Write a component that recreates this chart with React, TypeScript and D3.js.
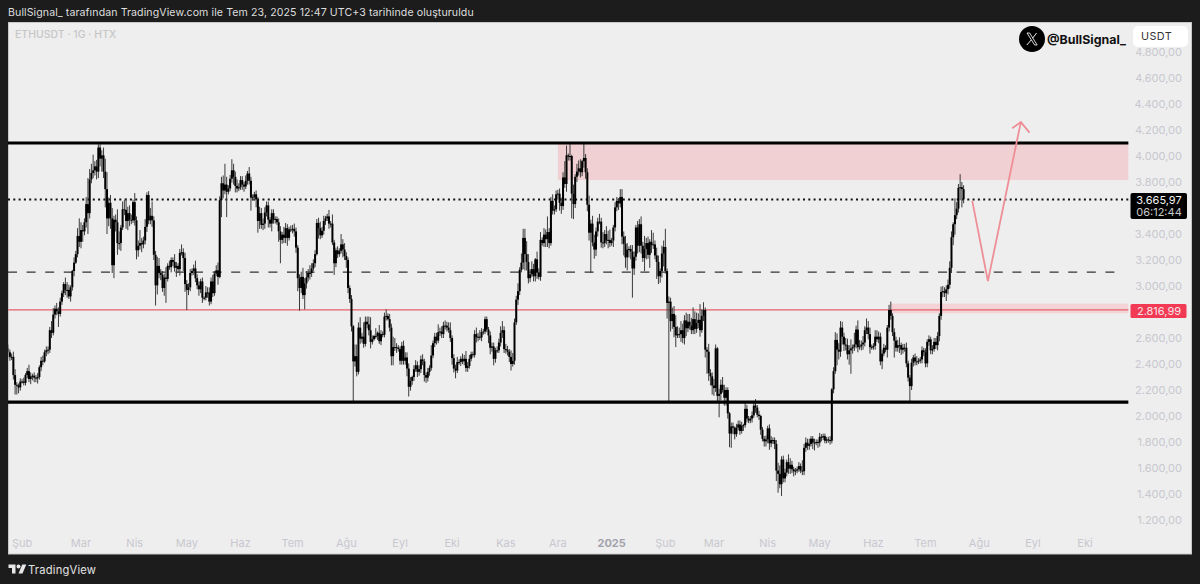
import * as d3 from 'd3'

// daily closes, one row per month, Jan 19 2024 -> Jul 23 2025
const closes = [
  2490, 2455, 2455, 2315, 2240, 2235, 2220, 2265, 2265, 2255, 2315, 2345, 2285,
  2305, 2310, 2295, 2290, 2300, 2375, 2425, 2420, 2490, 2505, 2510, 2660, 2640, 2780, 2825, 2805, 2785, 2880, 2945, 3015, 2970, 2970, 2920, 2990, 3115, 3180, 3245, 3385, 3340,
  3430, 3420, 3490, 3630, 3560, 3820, 3870, 3890, 3920, 3880, 4065, 3980, 4005, 3880, 3745, 3520, 3640, 3520, 3160, 3510, 3490, 3330, 3330, 3450, 3590, 3585, 3500, 3560, 3510, 3505, 3645,
  3505, 3275, 3310, 3330, 3320, 3350, 3455, 3700, 3505, 3540, 3505, 3240, 3005, 3155, 3100, 3085, 2985, 3065, 3055, 3155, 3145, 3200, 3185, 3140, 3155, 3130, 3255, 3260, 3215, 3015,
  2970, 2990, 3100, 3115, 3135, 3060, 3005, 2975, 3035, 2910, 2910, 2950, 2950, 2880, 3035, 2945, 3095, 3120, 3070, 3660, 3790, 3735, 3780, 3725, 3750, 3825, 3890, 3840, 3770, 3750, 3760,
  3815, 3780, 3765, 3810, 3865, 3810, 3680, 3685, 3705, 3665, 3500, 3560, 3470, 3480, 3565, 3620, 3510, 3480, 3560, 3510, 3515, 3490, 3420, 3355, 3395, 3370, 3445, 3370, 3435, 3435,
  3440, 3420, 3295, 3060, 2985, 3070, 2930, 3020, 3065, 3100, 3100, 3135, 3175, 3245, 3485, 3445, 3390, 3425, 3500, 3520, 3535, 3480, 3480, 3335, 3175, 3275, 3245, 3270, 3320, 3280, 3230,
  3200, 2985, 2900, 2690, 2420, 2460, 2340, 2680, 2595, 2610, 2555, 2725, 2705, 2660, 2570, 2590, 2615, 2615, 2640, 2575, 2630, 2625, 2765, 2770, 2745, 2680, 2460, 2530, 2530, 2525, 2515,
  2425, 2540, 2425, 2450, 2365, 2225, 2270, 2300, 2360, 2390, 2340, 2360, 2435, 2420, 2315, 2295, 2340, 2370, 2465, 2560, 2610, 2580, 2645, 2650, 2630, 2695, 2695, 2680, 2660, 2600,
  2445, 2365, 2350, 2415, 2415, 2440, 2420, 2440, 2370, 2385, 2440, 2475, 2470, 2630, 2605, 2610, 2605, 2645, 2650, 2745, 2665, 2620, 2525, 2535, 2440, 2505, 2505, 2565, 2640, 2660, 2515,
  2510, 2495, 2455, 2400, 2425, 2720, 2895, 2960, 3125, 3180, 3370, 3245, 3185, 3060, 3090, 3130, 3075, 3205, 3105, 3070, 3355, 3330, 3395, 3360, 3415, 3330, 3655, 3580, 3590, 3705,
  3710, 3640, 3615, 3835, 3785, 4005, 3995, 4000, 3710, 3630, 3840, 3880, 3905, 3875, 3960, 3985, 3875, 3625, 3410, 3480, 3335, 3280, 3420, 3495, 3495, 3335, 3330, 3400, 3350, 3355, 3330,
  3350, 3450, 3605, 3655, 3635, 3685, 3380, 3325, 3220, 3280, 3285, 3265, 3135, 3225, 3450, 3310, 3475, 3310, 3215, 3285, 3330, 3240, 3340, 3315, 3320, 3235, 3185, 3075, 3115, 3250, 3300,
  3115, 2870, 2880, 2730, 2785, 2685, 2620, 2630, 2630, 2660, 2600, 2735, 2675, 2725, 2695, 2660, 2745, 2670, 2715, 2740, 2660, 2770, 2815, 2510, 2495, 2330, 2305, 2235,
  2215, 2520, 2155, 2170, 2240, 2200, 2140, 2200, 2020, 1865, 1920, 1910, 1860, 1910, 1935, 1885, 1925, 1930, 2055, 1980, 1965, 1980, 2005, 2080, 2065, 2010, 2000, 1895, 1825, 1805, 1820,
  1905, 1790, 1815, 1815, 1785, 1580, 1555, 1475, 1665, 1520, 1565, 1645, 1595, 1625, 1590, 1575, 1580, 1590, 1615, 1580, 1575, 1755, 1795, 1770, 1785, 1825, 1795, 1795, 1800, 1795,
  1840, 1835, 1845, 1810, 1820, 1815, 1810, 2205, 2345, 2585, 2510, 2495, 2680, 2610, 2550, 2545, 2475, 2505, 2520, 2530, 2550, 2665, 2530, 2535, 2550, 2565, 2660, 2680, 2630, 2530, 2530,
  2540, 2610, 2590, 2610, 2420, 2480, 2525, 2510, 2680, 2815, 2770, 2645, 2580, 2525, 2545, 2545, 2510, 2525, 2525, 2405, 2295, 2230, 2410, 2450, 2420, 2420, 2425, 2435, 2505, 2490,
  2405, 2570, 2590, 2505, 2515, 2570, 2545, 2615, 2770, 2955, 2960, 2945, 2975, 3010, 3140, 3375, 3475, 3545, 3595, 3755, 3760, 3745, 3666,
]

// how far each high sits above the body
const upperWicks = [
  30, 20, 25, 40, 45, 20, 15, 25, 20, 30, 15, 25, 50,
  30, 15, 25, 20, 30, 15, 30, 40, 20, 30, 25, 25, 70, 50, 25, 45, 30, 30, 20, 15, 50, 60, 40, 15, 10, 40, 25, 60, 135,
  60, 40, 30, 55, 200, 80, 70, 120, 40, 50, 25, 25, 40, 60, 100, 130, 40, 60, 80, 30, 40, 100, 90, 20, 60, 70, 90, 50, 60, 40, 20,
  70, 30, 40, 100, 40, 30, 60, 20, 30, 60, 110, 30, 30, 70, 60, 30, 30, 30, 80, 20, 40, 20, 20, 60, 30, 20, 30, 60, 30, 40,
  30, 30, 30, 20, 30, 60, 30, 30, 20, 30, 10, 50, 40, 40, 30, 50, 20, 40, 60, 30, 50, 60, 160, 60, 25, 30, 85, 50, 40, 50, 30,
  30, 30, 20, 40, 20, 50, 30, 20, 20, 30, 20, 50, 40, 40, 40, 30, 30, 20, 30, 30, 20, 20, 30, 40, 20, 60, 40, 30, 20, 30,
  30, 40, 30, 20, 30, 40, 70, 40, 50, 30, 60, 40, 30, 30, 30, 40, 50, 30, 40, 20, 20, 50, 20, 70, 20, 20, 30, 20, 80, 40, 50,
  30, 20, 20, 30, 10, 90, 90, 40, 80, 30, 110, 40, 40, 60, 100, 30, 10, 60, 10, 60, 30, 20, 30, 50, 20, 40, 30, 80, 70, 30, 20,
  20, 30, 40, 40, 40, 40, 30, 10, 30, 40, 30, 30, 30, 40, 20, 20, 30, 20, 80, 20, 30, 30, 60, 30, 40, 30, 40, 30, 40, 60,
  20, 30, 30, 40, 20, 20, 40, 30, 60, 30, 30, 20, 20, 30, 50, 30, 50, 30, 20, 20, 20, 20, 30, 30, 30, 20, 30, 30, 50, 70, 30,
  40, 30, 20, 50, 60, 30, 30, 60, 20, 70, 70, 70, 100, 60, 40, 60, 40, 10, 60, 30, 60, 20, 50, 40, 120, 30, 30, 50, 30, 30,
  30, 40, 40, 40, 125, 75, 15, 90, 10, 70, 20, 60, 60, 70, 10, 115, 30, 30, 70, 30, 60, 60, 30, 30, 60, 30, 80, 30, 60, 70, 80,
  20, 20, 40, 30, 20, 60, 60, 40, 60, 50, 20, 30, 50, 40, 20, 50, 40, 60, 30, 100, 40, 50, 20, 90, 90, 30, 60, 50, 20, 60, 50,
  140, 20, 40, 30, 50, 60, 90, 60, 50, 70, 50, 40, 60, 60, 60, 60, 90, 60, 80, 50, 120, 50, 60, 20, 20, 60, 30, 30,
  50, 30, 10, 40, 40, 60, 40, 20, 20, 10, 30, 30, 10, 30, 30, 30, 30, 10, 60, 30, 20, 20, 30, 20, 50, 20, 30, 10, 20, 20, 30,
  20, 30, 30, 20, 20, 30, 60, 65, 25, 30, 30, 20, 60, 50, 30, 20, 20, 20, 30, 20, 80, 30, 40, 30, 40, 20, 20, 30, 20, 20,
  30, 20, 20, 20, 20, 20, 30, 10, 30, 60, 50, 50, 50, 45, 30, 50, 50, 40, 70, 20, 90, 30, 70, 50, 30, 50, 30, 70, 50, 50, 20,
  20, 50, 50, 40, 30, 30, 30, 20, 20, 40, 65, 20, 30, 30, 40, 60, 20, 30, 30, 40, 20, 20, 30, 20, 30, 40, 20, 20, 30, 20,
  30, 20, 30, 20, 30, 30, 30, 30, 20, 40, 40, 30, 30, 40, 50, 45, 15, 130, 50, 30, 100, 40, 30,
]

// how far each low sits below the body
const lowerWicks = [
  40, 30, 25, 35, 75, 70, 45, 25, 15, 20, 20, 25, 25,
  40, 30, 35, 30, 40, 20, 30, 30, 10, 30, 30, 25, 40, 20, 30, 30, 100, 20, 25, 30, 40, 60, 20, 40, 25, 40, 10, 25, 40,
  50, 80, 30, 40, 160, 40, 30, 40, 40, 60, 50, 60, 100, 50, 140, 120, 60, 80, 60, 100, 70, 90, 50, 60, 20, 40, 60, 70, 50, 30, 20,
  40, 70, 50, 30, 60, 30, 30, 40, 30, 30, 50, 40, 155, 70, 40, 40, 30, 60, 185, 20, 20, 40, 30, 30, 70, 30, 50, 20, 100, 60,
  155, 40, 30, 20, 30, 30, 30, 50, 30, 40, 20, 20, 40, 30, 20, 30, 20, 20, 60, 10, 130, 60, 30, 195, 20, 20, 30, 60, 50, 30, 20,
  20, 40, 40, 20, 30, 30, 100, 20, 30, 60, 90, 60, 30, 40, 40, 30, 60, 30, 60, 30, 30, 20, 80, 180, 30, 40, 40, 60, 20, 20,
  30, 40, 40, 100, 175, 40, 30, 110, 40, 30, 50, 30, 20, 30, 10, 80, 30, 20, 30, 30, 20, 40, 30, 20, 90, 30, 30, 20, 20, 60, 30,
  60, 40, 30, 40, 310, 40, 35, 20, 40, 30, 30, 20, 30, 40, 50, 20, 10, 20, 30, 20, 30, 20, 20, 30, 10, 30, 70, 70, 30, 40, 20,
  30, 30, 30, 30, 60, 75, 30, 30, 30, 20, 40, 30, 30, 30, 50, 40, 30, 30, 20, 20, 30, 30, 20, 30, 30, 30, 30, 30, 20, 30,
  50, 30, 60, 20, 20, 30, 20, 30, 30, 30, 20, 20, 20, 20, 40, 30, 20, 30, 20, 20, 20, 60, 50, 30, 50, 30, 20, 20, 30, 40, 30,
  30, 30, 40, 50, 20, 30, 20, 40, 30, 20, 50, 125, 65, 40, 30, 20, 40, 40, 50, 20, 30, 20, 30, 60, 60, 40, 20, 30, 30, 20,
  40, 60, 60, 30, 30, 60, 30, 30, 190, 115, 30, 40, 30, 40, 30, 50, 50, 50, 60, 310, 30, 70, 50, 40, 20, 40, 40, 30, 30, 60, 30,
  20, 50, 30, 30, 50, 30, 60, 90, 80, 100, 60, 60, 225, 50, 30, 60, 50, 60, 30, 100, 80, 30, 100, 60, 30, 30, 130, 60, 50, 50, 100,
  20, 120, 763, 80, 60, 80, 90, 20, 30, 60, 40, 50, 60, 30, 30, 30, 30, 40, 30, 40, 50, 20, 40, 60, 170, 60, 70, 70,
  60, 30, 40, 165, 50, 20, 60, 60, 40, 105, 110, 50, 40, 20, 20, 30, 20, 40, 20, 30, 20, 20, 30, 20, 40, 20, 30, 40, 20, 40, 40,
  30, 50, 30, 30, 40, 80, 145, 30, 90, 30, 30, 30, 40, 40, 30, 40, 30, 20, 20, 20, 30, 30, 30, 30, 30, 20, 50, 60, 20, 40,
  30, 30, 20, 20, 20, 20, 30, 20, 30, 20, 120, 60, 40, 60, 50, 40, 40, 80, 180, 40, 30, 30, 40, 20, 30, 40, 30, 30, 40, 50, 20,
  20, 30, 20, 30, 30, 60, 20, 20, 60, 30, 30, 30, 130, 30, 30, 60, 40, 30, 30, 30, 30, 120, 30, 30, 30, 30, 20, 20, 30, 30,
  30, 30, 30, 30, 30, 20, 30, 40, 40, 30, 40, 30, 60, 40, 30, 40, 60, 80, 30, 30, 95, 140, 30,
]

const firstDay = new Date(2024, 0, 19)
// 3600 and 2800 sit behind the price tags in the reference
const priceTicks = [1200, 1400, 1600, 1800, 2000, 2200, 2400, 2600, 3000, 3200, 3400, 3800, 4000, 4200, 4400, 4600, 4800]
const monthTicks: [Date, string][] = [
  [new Date(2024, 0, 27), 'Şub'], [new Date(2024, 2, 1), 'Mar'], [new Date(2024, 3, 1), 'Nis'], [new Date(2024, 4, 1), 'May'],
  [new Date(2024, 5, 1), 'Haz'], [new Date(2024, 6, 1), 'Tem'], [new Date(2024, 7, 1), 'Ağu'], [new Date(2024, 8, 1), 'Eyl'],
  [new Date(2024, 9, 1), 'Eki'], [new Date(2024, 10, 1), 'Kas'], [new Date(2024, 11, 1), 'Ara'], [new Date(2025, 0, 1), '2025'],
  [new Date(2025, 1, 1), 'Şub'], [new Date(2025, 2, 1), 'Mar'], [new Date(2025, 3, 1), 'Nis'], [new Date(2025, 4, 1), 'May'],
  [new Date(2025, 5, 1), 'Haz'], [new Date(2025, 6, 1), 'Tem'], [new Date(2025, 7, 1), 'Ağu'], [new Date(2025, 8, 1), 'Eyl'],
  [new Date(2025, 9, 1), 'Eki'],
]

// drawings on the chart
const rangeTop = 4100
const rangeBottom = 2107
const midLevel = 3107
const lastPrice = 3665.97
const alertPrice = 2816.99
const drawingsEnd = new Date(2025, 9, 26)
const midLevelEnd = new Date(2025, 9, 21)
const upperZone = { from: new Date(2024, 11, 1), top: 4100, bottom: 3815 }
const lowerZone = { from: new Date(2025, 5, 11), top: 2865, bottom: 2790 }
const arrowPath: [Date, number][] = [[new Date(2025, 6, 28), 3655], [new Date(2025, 7, 6), 3038], [new Date(2025, 7, 25), 4261]]
const arrowHead: [Date, number][] = [[new Date(2025, 7, 20), 4213], [new Date(2025, 7, 25), 4261], [new Date(2025, 7, 30), 4180]]

const x = d3.scaleTime().domain([new Date(2024, 2, 1), new Date(2025, 9, 1)]).range([81, 1085])
const y = d3.scaleLinear().domain([1200, 4800]).range([520, 52])
const fmt = d3.formatLocale({ decimal: ',', thousands: '.', grouping: [3], currency: ['', ''] }).format(',.2f')
const sans = 'Inter, "Noto Sans", sans-serif'

const candles = closes.map((close, i) => {
  const open = i === 0 ? 2520 : closes[i - 1]
  return {
    date: d3.timeDay.offset(firstDay, i),
    open,
    close,
    high: Math.max(open, close) + (upperWicks[i] ?? 0),
    low: Math.min(open, close) - (lowerWicks[i] ?? 0),
  }
})

const pathLine = d3.line<[Date, number]>().x(d => x(d[0])).y(d => y(d[1]))

export default function App() {
  const right = x(drawingsEnd)
  return (
    <svg width={1200} height={584} style={{ position: 'fixed', left: 0, top: 0, fontFamily: sans }}>
      <defs>
        <clipPath id="pane"><rect x={8.5} y={22.5} width={1183} height={532} /></clipPath>
      </defs>
      <rect width={1200} height={584} fill="#1c1c1c" />
      <rect x={8.5} y={22.5} width={1183} height={531.5} fill="#eeeeee" stroke="#c8c8c8" />
      <text x={8} y={16} fontSize={10.6} fill="#dedede" letterSpacing={0.09}>
        BullSignal_ tarafından TradingView.com ile Tem 23, 2025 12:47 UTC+3 tarihinde oluşturuldu
      </text>
      <text x={15} y={38} fontSize={10.4} fontWeight={500} fill="#c6c6c6" letterSpacing={0.05}>ETHUSDT · 1G · HTX</text>

      {/* zones */}
      <rect x={x(upperZone.from)} width={right - x(upperZone.from)} y={y(upperZone.top)} height={y(upperZone.bottom) - y(upperZone.top)} fill="#f0d0d3" />
      <rect x={x(lowerZone.from)} width={right - x(lowerZone.from)} y={y(lowerZone.top)} height={y(lowerZone.bottom) - y(lowerZone.top)} fill="#f3d3d6" />

      {/* levels under the candles */}
      <line x1={8} x2={right} y1={y(alertPrice)} y2={y(alertPrice)} stroke="#e5606a" strokeWidth={1.2} />
      <line x1={8} x2={x(midLevelEnd)} y1={y(midLevel)} y2={y(midLevel)} stroke="#333" strokeWidth={1.4} strokeDasharray="9 9.6" />
      <line x1={8} x2={right} y1={y(lastPrice)} y2={y(lastPrice)} stroke="#111" strokeWidth={2} strokeDasharray="2 3.3" />

      <g clipPath="url(#pane)" style={{ filter: 'blur(0.3px)' }}>
        {candles.map((d, i) => (
          <g key={i}>
            <line x1={x(d.date)} x2={x(d.date)} y1={y(d.high)} y2={y(d.low)} stroke="#3a3a3a" strokeWidth={1} />
            <rect
              x={x(d.date) - 1}
              width={2}
              y={y(Math.max(d.open, d.close))}
              height={Math.max(1, Math.abs(y(d.open) - y(d.close)))}
              fill="#000"
            />
          </g>
        ))}
      </g>

      {/* range lines */}
      <line x1={8} x2={right} y1={y(rangeTop)} y2={y(rangeTop)} stroke="#000" strokeWidth={3.2} />
      <line x1={8} x2={right} y1={y(rangeBottom)} y2={y(rangeBottom)} stroke="#000" strokeWidth={3.2} />

      {/* projected move */}
      <path d={pathLine(arrowPath) ?? ''} fill="none" stroke="#ee8f97" strokeWidth={1.8} strokeLinejoin="miter" />
      <path d={pathLine(arrowHead) ?? ''} fill="none" stroke="#ee8f97" strokeWidth={1.8} />

      {/* price axis */}
      {priceTicks.map(p => (
        <text key={p} x={1182} y={y(p)} dy="0.35em" textAnchor="end" fontSize={11} fill="#c8c8ce">{fmt(p)}</text>
      ))}
      {monthTicks.map(([date, label], i) => (
        <text
          key={i}
          x={x(date)}
          y={543}
          dy="0.35em"
          textAnchor="middle"
          fontSize={11}
          fontWeight={label === '2025' ? 700 : 400}
          fill={label === '2025' ? '#a2a2ac' : '#c8c8ce'}
        >
          {label}
        </text>
      ))}

      {/* price tags */}
      <rect x={1130.5} y={193} width={56.5} height={26} rx={2} fill="#000" />
      <text x={1159} y={204} textAnchor="middle" fontSize={11} fill="#f2f2f2">{fmt(lastPrice)}</text>
      <text x={1159} y={216} textAnchor="middle" fontSize={11} fill="#c8c8c8">06:12:44</text>
      <rect x={1130.5} y={304} width={56} height={14} rx={1.5} fill="#f23a55" />
      <text x={1159} y={311} dy="0.35em" textAnchor="middle" fontSize={11} fill="#f6e4e6">{fmt(alertPrice)}</text>

      {/* handle + currency */}
      <rect x={1133} y={26} width={55} height={21} rx={5} fill="#ffffff" />
      <text x={1141} y={40} fontSize={10.8} fill="#333" letterSpacing={0.4}>USDT</text>
      <circle cx={1032} cy={39} r={13} fill="#000" />
      <g stroke="#eee" fill="none">
        <path d="M1027 33h2.6l7.6 12h-2.6z" strokeWidth={0.9} />
        <path d="M1036.6 33l-4 5.2M1031.2 40l-4.4 5" strokeWidth={1} />
      </g>
      <text x={1047} y={44} fontSize={12.4} fontWeight={700} fill="#111">@BullSignal_</text>

      {/* footer */}
      <g transform="translate(8.5,562.5) scale(0.5)" fill="#e8e8e8">
        <path d="M14 22H7V11H0V4h14v18zM28 22h-8l7.5-18h8L28 22z" />
        <circle cx={20} cy={8} r={4} />
      </g>
      <text x={28} y={574} fontSize={11.2} fill="#e2e2e2" letterSpacing={0.2}>TradingView</text>
    </svg>
  )
}
